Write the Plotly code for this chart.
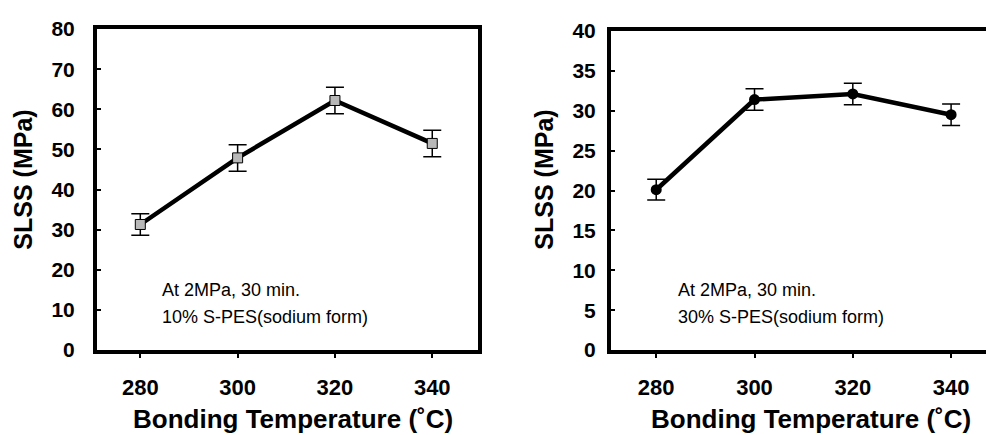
import plotly.graph_objects as go

# Data
temps = [280, 300, 320, 340]
slss_10 = [31.3, 47.9, 62.2, 51.5]
err_10 = [2.7, 3.3, 3.3, 3.3]
slss_30 = [20.1, 31.4, 32.1, 29.5]
err_30 = [1.3, 1.35, 1.35, 1.35]

x_tick_vals = [280, 300, 320, 340]
y1_ticks = [0, 10, 20, 30, 40, 50, 60, 70, 80]
y2_ticks = [0, 5, 10, 15, 20, 25, 30, 35, 40]

W, H = 986, 435
FONT = "Liberation Sans, Arial, Helvetica, sans-serif"

fig = go.Figure()

fig.add_trace(go.Scatter(
    x=temps, y=slss_10, mode="lines+markers",
    line=dict(color="black", width=4.5),
    marker=dict(symbol="square", size=10, color="#b8b8b8", line=dict(color="black", width=1)),
    error_y=dict(type="data", array=err_10, visible=True, color="black", thickness=1.5, width=9),
    xaxis="x", yaxis="y", showlegend=False,
))
fig.add_trace(go.Scatter(
    x=temps, y=slss_30, mode="lines+markers",
    line=dict(color="black", width=4.5),
    marker=dict(symbol="circle", size=11, color="black"),
    error_y=dict(type="data", array=err_30, visible=True, color="black", thickness=1.5, width=9),
    xaxis="x2", yaxis="y2", showlegend=False,
))

common_x = dict(
    tickvals=x_tick_vals, showline=True, linecolor="black", linewidth=4,
    ticks="outside", ticklen=4, tickwidth=2, tickcolor="black",
    tickfont=dict(family=FONT, size=22, color="black", weight="bold"),
    showgrid=False, zeroline=False, ticklabelstandoff=10,
)
common_y = dict(
    showline=True, linecolor="black", linewidth=4,
    ticks="inside", ticklen=4, tickwidth=2, tickcolor="black",
    tickfont=dict(family=FONT, size=21, color="black", weight="bold"),
    showgrid=False, zeroline=False,
)

fig.update_layout(
    width=W, height=H,
    margin=dict(l=0, r=0, t=0, b=0),
    paper_bgcolor="white", plot_bgcolor="white",
    xaxis=dict(domain=[97 / W, 478 / W], range=[271.1, 349.4], anchor="y", mirror=True, **common_x),
    yaxis=dict(domain=[1 - 357 / H, 1 - 18 / H], range=[0, 80], tickvals=y1_ticks, anchor="x",
               mirror=True, ticklabelstandoff=14, **common_y),
    xaxis2=dict(domain=[611 / W, 1.0], range=[270.8, 347.1], anchor="y2", mirror=True, **common_x),
    yaxis2=dict(domain=[1 - 357 / H, 1 - 20 / H], range=[0, 40], tickvals=y2_ticks, anchor="x2",
                mirror=False, ticklabelstandoff=7, **common_y),
)

def ann(text, x, y, size, bold=False, angle=0, xanchor="center"):
    fig.add_annotation(
        text=text, x=x / W, y=1 - y / H, xref="paper", yref="paper",
        showarrow=False, textangle=angle, xanchor=xanchor, yanchor="middle",
        font=dict(family=FONT, size=size, color="black", weight="bold" if bold else "normal"),
    )

# Axis titles
ann("SLSS (MPa)", 23, 177, 25, bold=True, angle=-90)
ann("SLSS (MPa)", 544, 177, 25, bold=True, angle=-90)
ann("Bonding Temperature (˚C)", 293, 430, 26, bold=True)
ann("Bonding Temperature (˚C)", 811, 430, 26, bold=True)

# Condition notes
ann("At 2MPa, 30 min.", 160, 294, 18, xanchor="left")
ann("10% S-PES(sodium form)", 160, 322, 18, xanchor="left")
ann("At 2MPa, 30 min.", 676, 294, 18, xanchor="left")
ann("30% S-PES(sodium form)", 676, 322, 18, xanchor="left")

fig.write_html("out.html")
